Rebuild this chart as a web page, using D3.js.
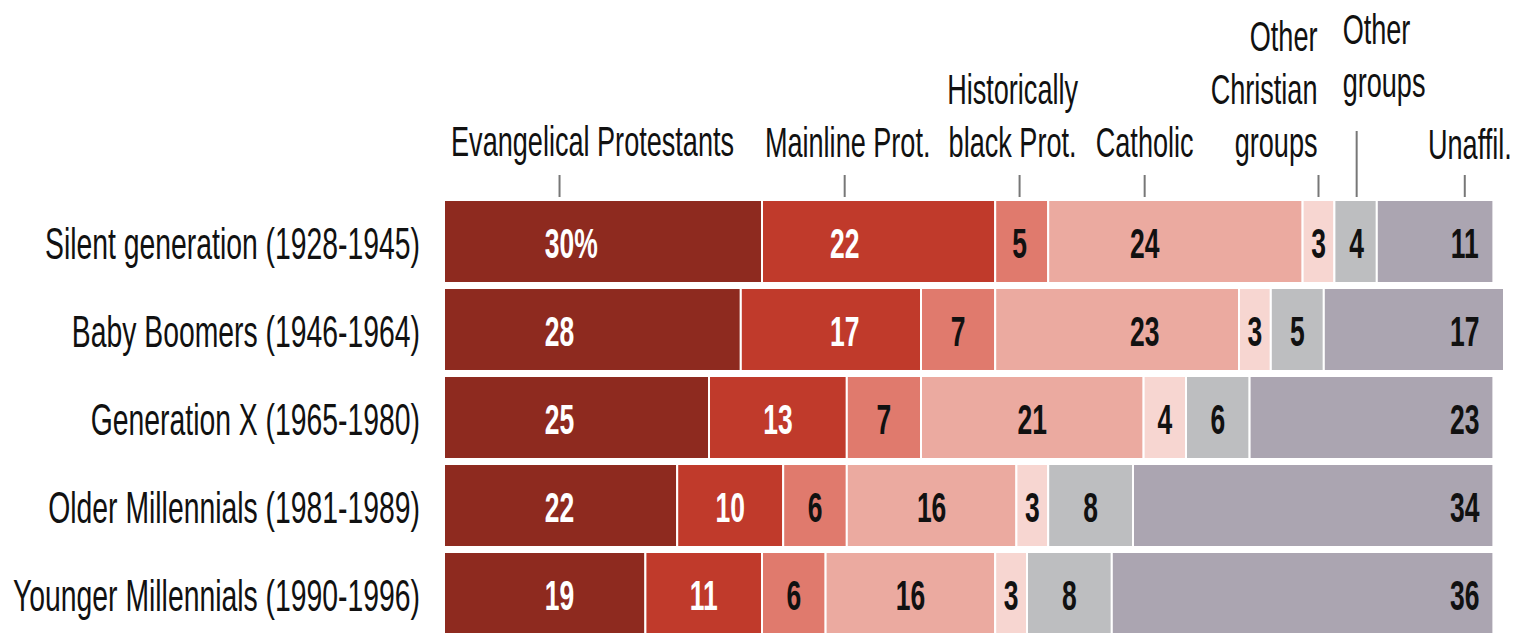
<!DOCTYPE html>
<html>
<head>
<meta charset="utf-8">
<script src="https://cdn.jsdelivr.net/npm/d3@7/dist/d3.min.js"></script>
<style>
  html, body { margin: 0; padding: 0; background: #fff; }
  svg { display: block; }
  text { font-family: "Liberation Sans", Arial, sans-serif; }
</style>
</head>
<body>
<svg id="chart" width="1516" height="633"></svg>
<script>
// ---- data ----
const generations = [
  "Silent generation (1928-1945)",
  "Baby Boomers (1946-1964)",
  "Generation X (1965-1980)",
  "Older Millennials (1981-1989)",
  "Younger Millennials (1990-1996)"
];
const categories = [
  "Evangelical Protestants", "Mainline Prot.", "Historically black Prot.",
  "Catholic", "Other Christian groups", "Other groups", "Unaffil."
];
const evangelical   = [30, 28, 25, 22, 19];
const mainline      = [22, 17, 13, 10, 11];
const histBlack     = [5, 7, 7, 6, 6];
const catholic      = [24, 23, 21, 16, 16];
const otherChristian= [3, 3, 4, 3, 3];
const otherGroups   = [4, 5, 6, 8, 8];
const unaffiliated  = [11, 17, 23, 34, 36];
const seriesValues = [evangelical, mainline, histBlack, catholic, otherChristian, otherGroups, unaffiliated];

// header label lines
const headerLines = [
  ["Evangelical Protestants"], ["Mainline Prot."], ["Historically", "black Prot."],
  ["Catholic"], ["Other", "Christian", "groups"], ["Other", "groups"], ["Unaffil."]
];
// header tick / label anchor positions (percent units)
const headerAnchors = [10.9, 37.8, 54.3, 66.1, 82.5, 86.1, 96.3];

// ---- style / layout ----
const colors = ["#8e2a1f", "#c03a2b", "#e07a6d", "#ebaaa0", "#f7d6d1", "#bdbec0", "#aba5b1"];
const valueColors = ["#fff", "#fff", "#111", "#111", "#111", "#111", "#111"];
const headerLayout = [
  {align: "middle", dx: 33,  base: 156, tickTop: 175},
  {align: "middle", dx: 3,   base: 157, tickTop: 175},
  {align: "middle", dx: -7,  base: 157, tickTop: 175},
  {align: "middle", dx: 0,   base: 157, tickTop: 175},
  {align: "end",    dx: -1,  base: 157, tickTop: 175},
  {align: "start",  dx: -14, base: 97,  tickTop: 131},
  {align: "end",    dx: 47,  base: 159, tickTop: 175}
];
const SX = 0.63;
const lineGap = 53;

const svg = d3.select("#chart");
const x = d3.scaleLinear().domain([0, 100]).range([444, 1504]);
const y = d3.scaleBand().domain(generations).range([197.5, 637.5]).paddingInner(0.057).paddingOuter(0.0285);

// stacked data
const rows = generations.map((g, i) => {
  let c = 0;
  return categories.map((cat, j) => {
    const v = seriesValues[j][i];
    const seg = {gen: g, cat, j, v, x0: c, x1: c + v};
    c += v;
    return seg;
  });
});

// bars
const rowG = svg.selectAll("g.row").data(rows).join("g").attr("class", "row");
rowG.selectAll("rect").data(d => d).join("rect")
  .attr("x", d => x(d.x0))
  .attr("y", d => y(d.gen))
  .attr("width", d => x(d.x1) - x(d.x0))
  .attr("height", y.bandwidth())
  .attr("fill", d => colors[d.j])
  .attr("stroke", "#fff")
  .attr("stroke-width", 2);

// row labels
svg.selectAll("text.rowlab").data(generations).join("text")
  .attr("class", "rowlab")
  .attr("transform", d => `translate(420,${y(d) + y.bandwidth() / 2 + 17}) scale(${SX},1)`)
  .attr("text-anchor", "end")
  .attr("font-size", 45)
  .attr("fill", "#111")
  .text(d => d);

// header ticks
svg.selectAll("line.htick").data(headerAnchors).join("line")
  .attr("class", "htick")
  .attr("x1", d => x(d)).attr("x2", d => x(d))
  .attr("y1", (d, i) => headerLayout[i].tickTop)
  .attr("y2", 197)
  .attr("stroke", "#777")
  .attr("stroke-width", 2);

// header labels
headerLines.forEach((lines, i) => {
  const L = headerLayout[i];
  const hx = x(headerAnchors[i]) + L.dx;
  lines.forEach((ln, k) => {
    const by = L.base - (lines.length - 1 - k) * lineGap;
    svg.append("text")
      .attr("transform", `translate(${hx},${by}) scale(${SX},1)`)
      .attr("text-anchor", L.align)
      .attr("font-size", 43)
      .attr("fill", "#111")
      .text(ln);
  });
});

// value labels
const VFS = 42;
const measure = svg.append("text").attr("font-size", VFS).attr("font-weight", "bold").attr("visibility", "hidden");
function textW(s) { measure.text(s); return measure.node().getComputedTextLength() * SX; }

rows.forEach((row, ri) => {
  row.forEach(seg => {
    const num = String(seg.v);
    const w = textW(num);
    const a = x(headerAnchors[seg.j]);
    const lo = x(seg.x0), hi = x(seg.x1);
    let cx;
    if (a - w / 2 - 3 >= lo && a + w / 2 + 3 <= hi) cx = a;
    else cx = (lo + hi) / 2;
    const cy = y(seg.gen) + y.bandwidth() / 2 + 16;
    svg.append("text")
      .attr("transform", `translate(${cx},${cy}) scale(${SX},1)`)
      .attr("text-anchor", "middle")
      .attr("font-size", VFS)
      .attr("font-weight", "bold")
      .attr("fill", valueColors[seg.j])
      .text(num);
    if (ri === 0 && seg.j === 0) {
      svg.append("text")
        .attr("transform", `translate(${cx + w / 2},${cy}) scale(${SX},1)`)
        .attr("text-anchor", "start")
        .attr("font-size", VFS)
        .attr("font-weight", "bold")
        .attr("fill", valueColors[seg.j])
        .text("%");
    }
  });
});
measure.remove();
</script>
</body>
</html>
